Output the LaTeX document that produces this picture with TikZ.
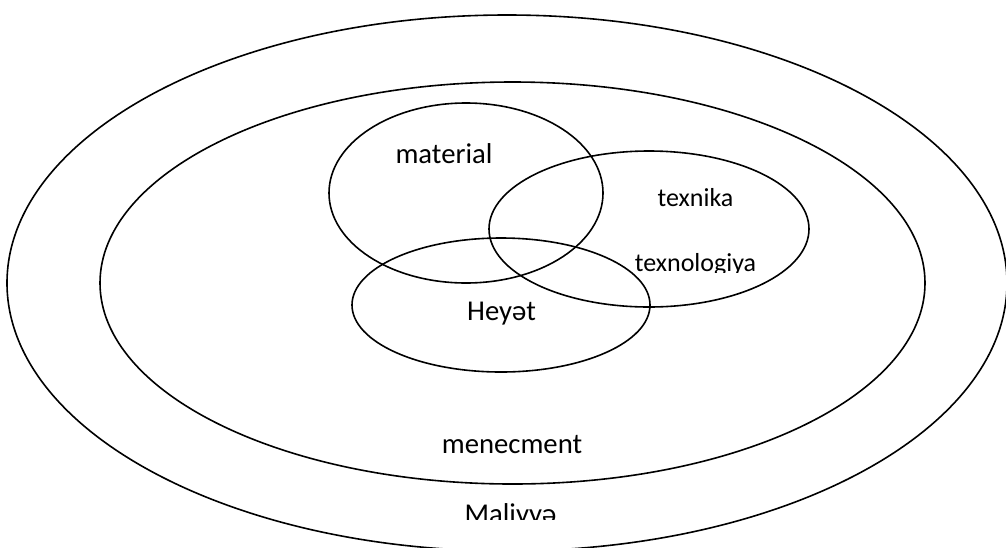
\documentclass[tikz,border=0pt]{standalone}
\usepackage{fontspec}
\setmainfont{Carlito}
\begin{document}
\begin{tikzpicture}[x=1pt,y=-1pt,
  ring/.style={draw=black,line width=1.6pt},
  lbl/.style={anchor=base,inner sep=0pt,font=\fontsize{28.7}{34}\selectfont},
  lblsmall/.style={anchor=base,inner sep=0pt,font=\fontsize{26}{31}\selectfont}]
\useasboundingbox (0,0) rectangle (1006,547);
\begin{scope}
\clip (0,0) rectangle (1006,547);
% outer and inner rings
\draw[ring] (507,283) ellipse [x radius=500pt, y radius=268pt];
\draw[ring] (512.5,283) ellipse [x radius=412.5pt, y radius=201pt];
% three overlapping sets
\draw[ring] (466,193) ellipse [x radius=137pt, y radius=90pt];
\draw[ring] (649,229) ellipse [x radius=160pt, y radius=78pt];
\draw[ring] (501,305) ellipse [x radius=149pt, y radius=67pt];
\end{scope}
\node[lbl] (mat) at (444,163) {material};
\node[lbl] (hey) at (501.5,320.5) {Heyət};
\node[lblsmall] (tex) at (695.5,206.5) {texnika};
\begin{scope}
\clip (600,240) rectangle (800,272);
\node[lblsmall] (tech) at (695.5,271.5) {texnologiya};
\end{scope}
\node[lbl] (men) at (512,453) {menecment};
\begin{scope}
\clip (420,490) rectangle (600,519.5);
\node[lbl] (fin) at (510.5,523.5) {Maliyyə};
\end{scope}
\end{tikzpicture}
\end{document}
